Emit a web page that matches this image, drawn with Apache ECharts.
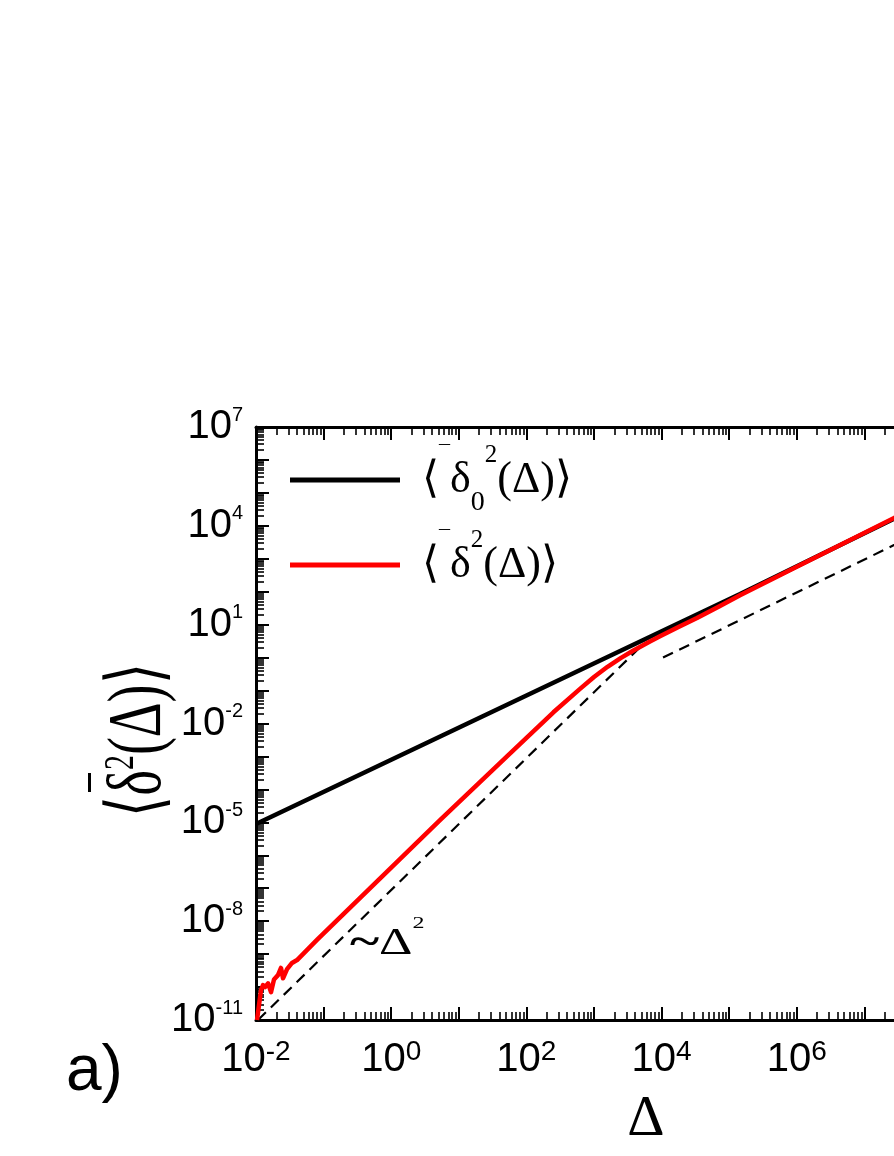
<!DOCTYPE html>
<html>
<head>
<meta charset="utf-8">
<script src="https://cdn.jsdelivr.net/npm/echarts@6/dist/echarts.min.js"></script>
<style>
  html, body { margin: 0; padding: 0; background: #fff; }
  #chart { width: 894px; height: 1156px; }
</style>
</head>
<body>
<div id="chart"></div>
<script>
// powers of ten that carry a label
const xLabelPowers = [-2, 0, 2, 4, 6, 8]
const yLabelPowers = [-11, -8, -5, -2, 1, 4, 7]

// <delta_0^2(Delta)>, black
const msd0 = [
  [0.01, 8.9e-6], [1.45e5, 85], [2.75e7, 1.65e4], [1e8, 6.2e4]
]

// <delta^2(Delta)>, red (noisy at short lags)
const msd = [
  [0.01035, 1e-11], [0.01107, 2.8e-11], [0.01186, 8.1e-11], [0.0127, 1.15e-10],
  [0.0136, 1.0e-10], [0.01507, 1.3e-10], [0.01667, 7e-11], [0.01846, 1.7e-10],
  [0.02114, 2.3e-10], [0.02343, 3.8e-10], [0.0251, 1.85e-10], [0.0288, 3.5e-10],
  [0.0341, 5.4e-10], [0.0405, 6.6e-10], [0.0798, 2.7e-9], [5.27, 1.17e-5],
  [51.6, 1.0e-3], [251, 0.0219], [621, 0.112], [1000, 0.258], [1585, 0.527],
  [2512, 0.982], [3776, 1.61], [6310, 2.87], [9462, 4.42], [17780, 8.45],
  [33400, 15.9], [70800, 35.5], [1.445e5, 77.6], [2.75e7, 1.74e4], [1e8, 6.3e4]
]

// guide lines
const guideSq = [[0.0107, 1e-11], [5700, 2.9]]
const guideLin = [[1.05e4, 1.0], [1e8, 9.5e3]]

const legendText = {
  'msd0': '{t|⟨}{bar|¯}{t|δ}{sub|0}{sup|2}{t|(Δ)⟩}',
  'msd': '{t|⟨}{bar|¯}{t|δ}{sup|2}{t|(Δ)⟩}'
}

const sans = '"Liberation Sans", Arial, sans-serif'
const serif = '"Liberation Serif", "Times New Roman", serif'

function powLabel(v, list) {
  if (!(v > 0)) return ''
  const p = Math.round(Math.log10(v))
  return list.includes(p) ? '{b|10}{s|' + p + '}' : ''
}

function logAxis(extra) {
  return Object.assign({
    type: 'log',
    logBase: 10,
    interval: 1,
    axisLine: { onZero: false, lineStyle: { color: '#000', width: 3 } },
    axisTick: { inside: true, length: 13, lineStyle: { color: '#000', width: 2 } },
    minorTick: { show: true, splitNumber: 9, length: 8, lineStyle: { color: '#000', width: 1.6 } },
    splitLine: { show: false },
    minorSplitLine: { show: false }
  }, extra)
}

const chart = echarts.init(document.getElementById('chart'))

chart.setOption({
  animation: false,
  backgroundColor: '#fff',
  grid: { left: 256, top: 427, width: 676, height: 593, outerBoundsMode: 'none', containLabel: false },
  legend: {
    data: ['msd0', 'msd'],
    orient: 'vertical',
    left: 290,
    top: 443,
    padding: 0,
    itemGap: 11,
    itemWidth: 110,
    itemHeight: 5,
    icon: 'rect',
    selectedMode: false,
    formatter: name => legendText[name],
    textStyle: {
      padding: [0, 0, 0, 17],
      rich: {
        t: { fontFamily: serif, fontSize: 44, lineHeight: 74, color: '#000' },
        bar: { fontFamily: serif, fontSize: 22, lineHeight: 40, verticalAlign: 'top', color: '#000' },
        sup: { fontFamily: serif, fontSize: 25, lineHeight: 48, verticalAlign: 'top', color: '#000' },
        sub: { fontFamily: serif, fontSize: 28, lineHeight: 26, verticalAlign: 'bottom', color: '#000' }
      }
    }
  },
  xAxis: [
    logAxis({
      min: 0.01, max: 1e8, position: 'bottom',
      axisLabel: {
        interval: 0, margin: 18, color: '#000',
        formatter: v => powLabel(v, xLabelPowers),
        rich: {
          b: { fontFamily: sans, fontSize: 40, lineHeight: 44, color: '#000' },
          s: { fontFamily: sans, fontSize: 28, lineHeight: 20, verticalAlign: 'top', color: '#000' }
        }
      }
    }),
    logAxis({ min: 0.01, max: 1e8, position: 'top', axisLabel: { show: false } })
  ],
  yAxis: [
    logAxis({
      min: 1e-11, max: 1e7, position: 'left',
      axisLabel: {
        interval: 0, margin: 13, color: '#000',
        formatter: v => powLabel(v, yLabelPowers),
        rich: {
          b: { fontFamily: sans, fontSize: 40, lineHeight: 44, color: '#000' },
          s: { fontFamily: sans, fontSize: 20, lineHeight: 18, verticalAlign: 'top', color: '#000' }
        }
      }
    }),
    logAxis({ min: 1e-11, max: 1e7, position: 'right', axisLabel: { show: false } })
  ],
  series: [
    {
      name: 'guideSq', type: 'line', data: guideSq, symbol: 'none', silent: true,
      lineStyle: { color: '#000', width: 2.2, type: [11, 7] }
    },
    {
      name: 'guideLin', type: 'line', data: guideLin, symbol: 'none', silent: true,
      lineStyle: { color: '#000', width: 2.2, type: [11, 7] }
    },
    {
      name: 'msd0', type: 'line', data: msd0, symbol: 'none',
      lineStyle: { color: '#000', width: 4.5 }, itemStyle: { color: '#000' }
    },
    {
      name: 'msd', type: 'line', data: msd, symbol: 'none',
      lineStyle: { color: '#ff0000', width: 4.5, join: 'round' }, itemStyle: { color: '#ff0000' }
    }
  ],
  graphic: [
    {
      type: 'text', x: 140, y: 740, rotation: Math.PI / 2, scaleY: 1.4,
      style: {
        text: '{t|⟨δ}{s|2}{t|(Δ)⟩}',
        align: 'center', verticalAlign: 'middle',
        textAlign: 'center', textVerticalAlign: 'middle',
        fill: '#000',
        rich: {
          t: { fontFamily: serif, fontSize: 54, lineHeight: 56, fill: '#000', textFill: '#000' },
          s: { fontFamily: serif, fontSize: 30, lineHeight: 28, verticalAlign: 'top', fill: '#000', textFill: '#000' }
        }
      }
    },
    // overbar of the y title
    { type: 'rect', shape: { x: 88, y: 773, width: 3, height: 19 }, style: { fill: '#000' } },
    {
      type: 'text', x: 646, y: 1120,
      style: {
        text: 'Δ', font: '58px "Liberation Serif"', fill: '#000',
        align: 'center', verticalAlign: 'middle', textAlign: 'center', textVerticalAlign: 'middle'
      }
    },
    {
      type: 'text', x: 66, y: 1072,
      style: {
        text: 'a)', font: '64px "Liberation Sans"', fill: '#000',
        align: 'left', verticalAlign: 'middle', textAlign: 'left', textVerticalAlign: 'middle'
      }
    },
    {
      type: 'text', x: 350, y: 944, scaleY: 0.72,
      style: {
        text: '{w|~}{d|Δ}{s|2}',
        align: 'left', verticalAlign: 'middle', textAlign: 'left', textVerticalAlign: 'middle',
        fill: '#000',
        rich: {
          w: { fontFamily: serif, fontSize: 56, fontWeight: 'bold', lineHeight: 80, fill: '#000', textFill: '#000' },
          d: { fontFamily: serif, fontSize: 52, lineHeight: 80, fill: '#000', textFill: '#000' },
          s: { fontFamily: serif, fontSize: 24, lineHeight: 14, verticalAlign: 'top', fill: '#000', textFill: '#000' }
        }
      }
    }
  ]
})
</script>
</body>
</html>
